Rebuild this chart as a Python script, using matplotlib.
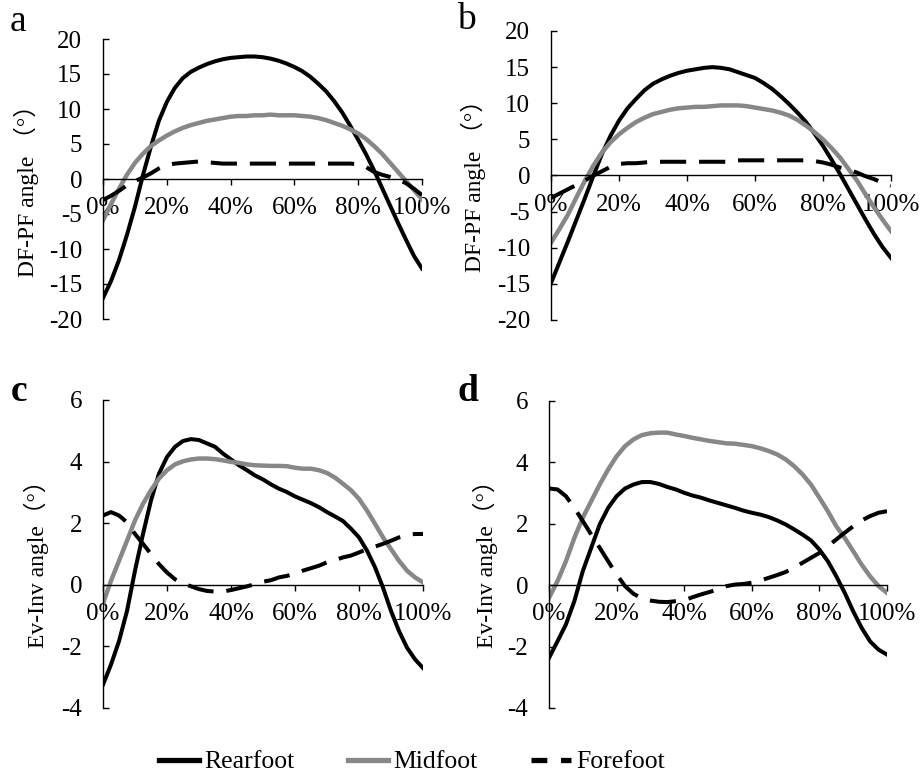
import numpy as np
import matplotlib
matplotlib.use('Agg')
import matplotlib.pyplot as plt
from matplotlib.lines import Line2D

plt.rcParams['font.family'] = ['Liberation Serif', 'Noto Sans CJK SC', 'DejaVu Sans']
plt.rcParams['axes.unicode_minus'] = False

# gait cycle (%), 2.5% steps
pct = np.arange(0, 100.1, 2.5)

# a: DF-PF angle, shoe 1
rear_a = [-17.0, -14.6, -11.6, -8.0, -4.0, 0.5, 4.6, 8.3, 11.0, 13.0, 14.4,
          15.3, 15.9, 16.4, 16.8, 17.1, 17.3, 17.4, 17.5, 17.5, 17.4,
          17.2, 16.9, 16.5, 16.0, 15.4, 14.6, 13.6, 12.5, 11.1, 9.5,
          7.6, 5.6, 3.5, 1.2, -1.3, -3.8, -6.3, -8.7, -11.0, -12.8]
mid_a = [-5.9, -3.6, -1.4, 0.6, 2.3, 3.6, 4.7, 5.5, 6.2, 6.8, 7.3,
         7.7, 8.0, 8.3, 8.5, 8.7, 8.9, 9.0, 9.0, 9.1, 9.1,
         9.2, 9.1, 9.1, 9.1, 9.0, 8.9, 8.7, 8.4, 8.0, 7.6,
         7.1, 6.5, 5.7, 4.7, 3.6, 2.3, 1.0, -0.3, -1.6, -2.9]
fore_a = [-3.0, -2.4, -1.7, -0.9, -0.3, 0.2, 0.8, 1.5, 2.0, 2.2, 2.3,
          2.4, 2.5, 2.4, 2.3, 2.2, 2.2, 2.2, 2.2, 2.2, 2.2,
          2.2, 2.2, 2.2, 2.2, 2.2, 2.2, 2.2, 2.2, 2.2, 2.2,
          2.2, 2.1, 1.7, 1.0, 0.6, 0.3, -0.1, -0.6, -1.4, -2.3]

# b: DF-PF angle, shoe 2
rear_b = [-14.9, -12.0, -9.1, -6.1, -3.1, 0.0, 3.0, 5.5, 7.6, 9.3, 10.6,
          11.8, 12.7, 13.3, 13.8, 14.2, 14.5, 14.7, 14.9, 15.0, 14.9,
          14.7, 14.3, 13.9, 13.5, 12.8, 12.0, 11.0, 9.9, 8.7, 7.4,
          5.8, 4.1, 2.2, 0.2, -1.9, -4.0, -6.1, -8.1, -9.9, -11.4]
mid_b = [-9.3, -7.4, -5.4, -3.0, -0.7, 1.4, 3.2, 4.6, 5.7, 6.6, 7.4,
         8.0, 8.5, 8.8, 9.1, 9.3, 9.4, 9.5, 9.5, 9.6, 9.7,
         9.7, 9.7, 9.6, 9.4, 9.2, 9.0, 8.7, 8.3, 7.7, 6.9,
         6.0, 5.0, 3.8, 2.5, 0.9, -0.7, -2.6, -4.4, -6.1, -7.7]
fore_b = [-3.1, -2.5, -1.9, -1.3, -0.7, 0.0, 0.6, 1.2, 1.6, 1.7, 1.7,
          1.8, 1.9, 1.9, 1.9, 1.9, 1.9, 1.9, 1.9, 1.9, 1.9,
          1.9, 2.1, 2.1, 2.1, 2.1, 2.1, 2.1, 2.1, 2.1, 2.1,
          2.0, 1.8, 1.5, 1.1, 0.8, 0.4, -0.1, -0.5, -1.0, -1.4]

# c: Ev-Inv angle, shoe 1
rear_c = [-3.24, -2.59, -1.83, -0.85, 0.46, 1.65, 2.74, 3.61, 4.15, 4.48, 4.67,
          4.73, 4.7, 4.59, 4.48, 4.26, 4.07, 3.88, 3.72, 3.55, 3.42,
          3.26, 3.12, 3.01, 2.87, 2.76, 2.65, 2.52, 2.36, 2.22, 2.07,
          1.82, 1.54, 1.11, 0.57, -0.09, -0.85, -1.5, -2.04, -2.42, -2.7]
mid_c = [-0.6, 0.13, 0.78, 1.43, 2.09, 2.63, 3.07, 3.45, 3.72, 3.91, 4.01,
         4.07, 4.1, 4.1, 4.08, 4.04, 3.99, 3.96, 3.91, 3.88, 3.87,
         3.86, 3.86, 3.85, 3.8, 3.77, 3.77, 3.72, 3.63, 3.48, 3.28,
         3.07, 2.79, 2.41, 1.98, 1.54, 1.16, 0.78, 0.46, 0.24, 0.08]
fore_c = [2.25, 2.36, 2.25, 2.03, 1.65, 1.33, 1.0, 0.67, 0.4, 0.18, 0.04,
          -0.05, -0.14, -0.2, -0.22, -0.22, -0.17, -0.11, -0.05, 0.02, 0.1,
          0.15, 0.24, 0.29, 0.37, 0.46, 0.54, 0.62, 0.73, 0.8, 0.89,
          0.95, 1.05, 1.16, 1.24, 1.33, 1.43, 1.54, 1.62, 1.65, 1.65]

# d: Ev-Inv angle, shoe 2
rear_d = [-2.37, -1.83, -1.28, -0.52, 0.46, 1.22, 1.98, 2.52, 2.9, 3.15, 3.28,
          3.36, 3.36, 3.3, 3.2, 3.12, 3.01, 2.92, 2.85, 2.76, 2.68,
          2.6, 2.52, 2.43, 2.36, 2.3, 2.22, 2.11, 1.98, 1.82, 1.65,
          1.46, 1.16, 0.78, 0.29, -0.25, -0.85, -1.39, -1.83, -2.1, -2.26]
mid_d = [-0.41, 0.13, 0.78, 1.54, 2.2, 2.74, 3.28, 3.77, 4.2, 4.53, 4.75,
         4.89, 4.95, 4.97, 4.97, 4.91, 4.86, 4.8, 4.75, 4.7, 4.66,
         4.62, 4.61, 4.57, 4.53, 4.46, 4.37, 4.26, 4.1, 3.88, 3.61,
         3.28, 2.85, 2.41, 1.92, 1.54, 1.11, 0.67, 0.29, -0.03, -0.25]
fore_d = [3.15, 3.12, 2.9, 2.52, 2.09, 1.65, 1.22, 0.78, 0.35, -0.03, -0.28,
          -0.43, -0.5, -0.54, -0.55, -0.52, -0.49, -0.39, -0.3, -0.22, -0.14,
          -0.03, 0.02, 0.04, 0.08, 0.15, 0.24, 0.33, 0.43, 0.57, 0.73,
          0.89, 1.05, 1.27, 1.49, 1.71, 1.92, 2.11, 2.25, 2.36, 2.41]

xticks = [0, 20, 40, 60, 80, 100]
xticklabels = ['0%', '20%', '40%', '60%', '80%', '100%']
series_names = ['Rearfoot', 'Midfoot', 'Forefoot']

W, H = 921, 777
fig = plt.figure(figsize=(W / 100, H / 100), dpi=100)


def px_box(x0, y0, x1, y1):
    return [x0 / W, 1 - y1 / H, (x1 - x0) / W, (y1 - y0) / H]


panels = [
    dict(box=px_box(103, 39, 422, 319), data=(rear_a, mid_a, fore_a), ylim=(-20, 20), step=5,
         label='a', bold=False, lab_xy=(18, 22), ylab='DF-PF angle （°）', ylab_xy=(26, 185)),
    dict(box=px_box(551, 31, 891, 320), data=(rear_b, mid_b, fore_b), ylim=(-20, 20), step=5,
         label='b', bold=False, lab_xy=(466, 20), ylab='DF-PF angle （°）', ylab_xy=(473, 180)),
    dict(box=px_box(103, 400, 423, 708), data=(rear_c, mid_c, fore_c), ylim=(-4, 6), step=2,
         label='c', bold=True, lab_xy=(19, 392), ylab='Ev-Inv angle（°）', ylab_xy=(36, 558)),
    dict(box=px_box(549, 401, 887, 708), data=(rear_d, mid_d, fore_d), ylim=(-4, 6), step=2,
         label='d', bold=True, lab_xy=(468, 392), ylab='Ev-Inv angle（°）', ylab_xy=(485, 558)),
]

lw = 2.9
for p in panels:
    ax = fig.add_axes(p['box'])
    rear, mid, fore = p['data']
    ax.plot(pct, rear, color='black', lw=lw)
    ax.plot(pct, mid, color='#878787', lw=lw + 0.3)
    ax.plot(pct, fore, color='black', lw=lw, dashes=(6.5, 3.2))

    ax.set_xlim(0, 100)
    ax.set_ylim(*p['ylim'])
    ax.set_yticks(np.arange(p['ylim'][0], p['ylim'][1] + 0.1, p['step']))
    ax.set_xticks(xticks)
    ax.set_xticklabels(xticklabels)

    ax.spines['top'].set_visible(False)
    ax.spines['right'].set_visible(False)
    ax.spines['bottom'].set_position(('data', 0))
    ax.spines['left'].set_linewidth(1.0)
    ax.spines['bottom'].set_linewidth(1.0)
    ax.tick_params(axis='y', direction='in', length=4, width=1, pad=15, labelsize=18)
    ax.tick_params(axis='x', direction='out', length=4, width=1, pad=9, labelsize=18)
    ax.patch.set_alpha(0)

    fig.text(p['lab_xy'][0] / W, 1 - p['lab_xy'][1] / H, p['label'], fontsize=27,
             fontweight='bold' if p['bold'] else 'normal', ha='center', va='center')
    fig.text(p['ylab_xy'][0] / W, 1 - p['ylab_xy'][1] / H, p['ylab'], fontsize=17,
             rotation=90, ha='center', va='center')

handles = [Line2D([], [], color='black', lw=3.8),
           Line2D([], [], color='#878787', lw=3.8),
           Line2D([], [], color='black', lw=3.8, dashes=(3, 2.6))]
fig.legend(handles, series_names, loc='center', bbox_to_anchor=(412 / W, 1 - 762 / H),
           ncol=3, frameon=False, fontsize=18.5, handlelength=1.55, handletextpad=0.2,
           columnspacing=2.1)

plt.savefig('out.png', dpi=100)
